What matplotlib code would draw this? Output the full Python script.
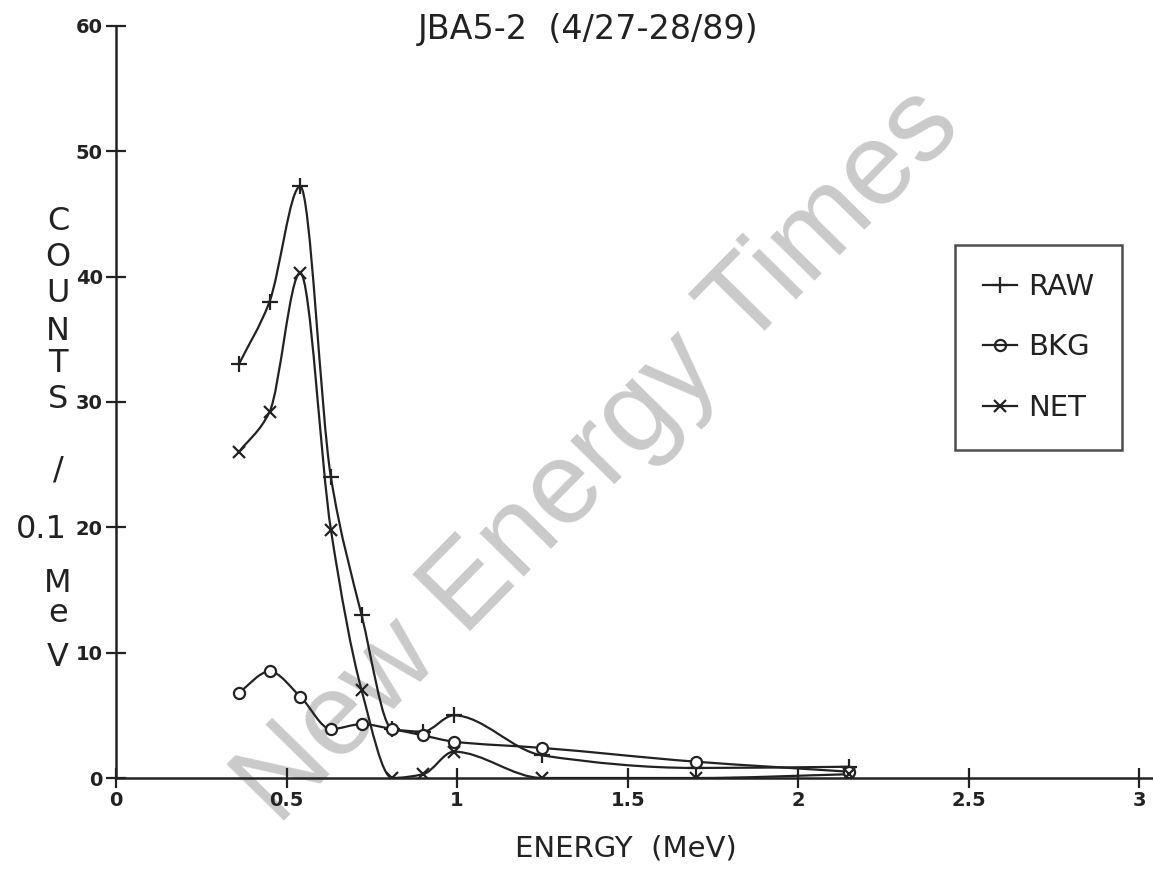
import numpy as np
import matplotlib
matplotlib.use('Agg')
import matplotlib.pyplot as plt
from matplotlib.path import Path
from matplotlib.patches import PathPatch
from matplotlib.lines import Line2D

energy = [0.36, 0.45, 0.54, 0.63, 0.72, 0.81, 0.90, 0.99, 1.25, 1.70, 2.15]
raw = [33.0, 38.0, 47.2, 24.0, 13.0, 3.9, 3.7, 5.0, 1.8, 0.8, 0.9]
bkg = [6.8, 8.5, 6.5, 3.9, 4.3, 3.9, 3.4, 2.9, 2.4, 1.3, 0.5]
net = [26.0, 29.2, 40.3, 19.8, 7.0, 0.0, 0.3, 2.1, 0.0, 0.0, 0.3]

x_ticks = [0, 0.5, 1, 1.5, 2, 2.5, 3]
x_ticklabels = ['0', '0.5', '1', '1.5', '2', '2.5', '3']
y_ticks = [0, 10, 20, 30, 40, 50, 60]

title = 'JBA5-2  (4/27-28/89)'
xlabel = 'ENERGY  (MeV)'
ylabel_parts = ['C', 'O', 'U', 'N', 'T', 'S', '/', '0.1', 'M', 'e', 'V']

plt.rcParams['font.family'] = ['DejaVu Sans']
INK = '#222222'


def smooth_path(x, y):
    # monotone cubic (pchip) segments drawn as bezier curves
    x = np.asarray(x, float)
    y = np.asarray(y, float)
    h = np.diff(x)
    d = np.diff(y) / h
    m = np.zeros_like(y)
    m[0] = d[0]
    m[-1] = d[-1]
    for k in range(1, len(x) - 1):
        if d[k - 1] * d[k] <= 0:
            m[k] = 0
        else:
            w1 = 2 * h[k] + h[k - 1]
            w2 = h[k] + 2 * h[k - 1]
            m[k] = (w1 + w2) / (w1 / d[k - 1] + w2 / d[k])
    verts = [(x[0], y[0])]
    codes = [Path.MOVETO]
    for k in range(len(x) - 1):
        verts += [(x[k] + h[k] / 3, y[k] + m[k] * h[k] / 3),
                  (x[k + 1] - h[k] / 3, y[k + 1] - m[k + 1] * h[k] / 3),
                  (x[k + 1], y[k + 1])]
        codes += [Path.CURVE4] * 3
    return Path(verts, codes)


fig = plt.figure(figsize=(11.53, 8.69), dpi=100)
ax = fig.add_axes([116 / 1153, 91 / 869, 1 - 116 / 1153, 752 / 869])
ax.patch.set_alpha(0)

# watermark
ax.text(0.52, 0.475, 'New Energy Times', transform=fig.transFigure,
        family='Liberation Sans', fontsize=84, color='#cacaca',
        rotation=45.5, ha='center', va='center', rotation_mode='anchor',
        zorder=0, clip_on=False)

series = [(raw, '+', 11, 'RAW'), (bkg, 'o', 8, 'BKG'), (net, 'x', 9, 'NET')]
handles = []
for vals, mk, ms, name in series:
    ax.add_patch(PathPatch(smooth_path(energy, vals), facecolor='none',
                           edgecolor=INK, lw=1.6, zorder=2))
    ax.plot(energy, vals, ls='none', marker=mk, ms=ms, mfc='white' if mk == 'o' else INK,
            mec=INK, mew=1.6, zorder=3)
    handles.append(Line2D([], [], color=INK, lw=1.6, marker=mk, ms=ms,
                          mfc='none', mec=INK, mew=1.6, label=name))

ax.set_xlim(0, 3.04)
ax.set_ylim(0, 60)
ax.spines['top'].set_visible(False)
ax.spines['right'].set_visible(False)
for s in ('left', 'bottom'):
    ax.spines[s].set_linewidth(1.8)
    ax.spines[s].set_color(INK)
ax.set_xticks(x_ticks)
ax.set_xticklabels(x_ticklabels)
ax.set_yticks(y_ticks)
ax.tick_params(direction='inout', length=15, width=1.6, color=INK,
               labelsize=14, pad=2, labelcolor=INK)
for lab in ax.get_xticklabels() + ax.get_yticklabels():
    lab.set_fontweight('bold')

fig.text(588 / 1153, 1 - 30 / 869, title, fontsize=24, color=INK,
         ha='center', va='center')
fig.text(626 / 1153, 1 - 848 / 869, xlabel, fontsize=21, color=INK,
         ha='center', va='center')

ylab_y = [222, 257, 293, 331, 363, 400, 470, 530, 583, 613, 658]
for part, yy in zip(ylabel_parts, ylab_y):
    if part == '0.1':
        fig.text(67 / 1153, 1 - yy / 869, part, fontsize=23, color=INK,
                 ha='right', va='center')
    else:
        fig.text(58 / 1153, 1 - yy / 869, part, fontsize=23, color=INK,
                 ha='center', va='center')

leg = ax.legend(handles=handles, loc='upper left',
                bbox_to_anchor=(955 / 1153, 1 - 245 / 869),
                bbox_transform=fig.transFigure, fontsize=21,
                frameon=True, fancybox=False, handlelength=1.17,
                handletextpad=0.38, labelspacing=1.12, borderpad=0.95,
                borderaxespad=0)
leg.get_frame().set_edgecolor(INK)
leg.get_frame().set_linewidth(1.8)
for t in leg.get_texts():
    t.set_color(INK)

fig.savefig('out.png', dpi=100)
